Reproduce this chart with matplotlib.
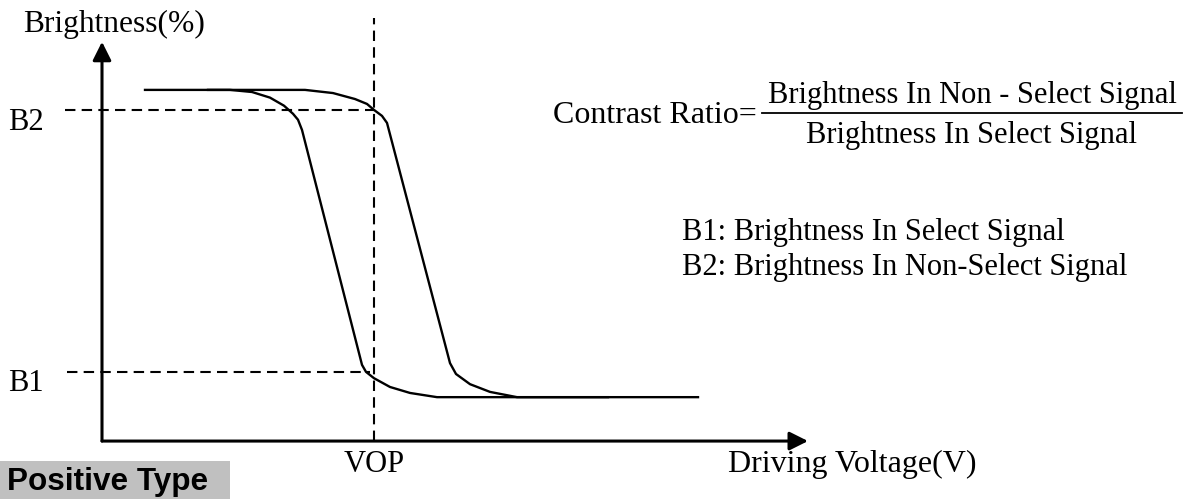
import matplotlib
matplotlib.use("Agg")
import matplotlib.pyplot as plt
from matplotlib.patches import Rectangle

# Driving voltage (arbitrary units) and brightness (%) of the two curves
v_left = [0.43, 1.28, 1.50, 1.68, 1.82, 1.91, 1.96, 2.00, 2.60, 2.64, 2.72, 2.88, 3.08, 3.35, 5.06]
b_left = [100.0, 100.0, 99.4, 97.8, 95.5, 93.2, 91.5, 88.6, 21.7, 19.7, 17.9, 15.4, 13.7, 12.5, 12.5]
v_right = [1.06, 2.03, 2.31, 2.53, 2.65, 2.72, 2.80, 2.85, 3.48, 3.54, 3.68, 3.88, 4.15, 5.96]
b_right = [100.0, 100.0, 99.1, 97.4, 96.0, 94.3, 92.6, 90.6, 22.2, 19.1, 16.2, 14.0, 12.5, 12.5]

VOP = 2.72
B2 = 94.3
B1 = 19.7

serif = "Liberation Serif"
fs = 22

fig = plt.figure(figsize=(11.9, 4.99), dpi=100)
ax = fig.add_axes([0, 0, 1, 1])
ax.set_xlim(-1.02, 10.88)
ax.set_ylim(-16.5, 125.6)
ax.axis("off")

# axes with arrows
ax.annotate("", xy=(0, 113.7), xytext=(0, 0),
            arrowprops=dict(arrowstyle="-|>", lw=2.2, color="black", mutation_scale=28,
                            shrinkA=0, shrinkB=0))
ax.annotate("", xy=(7.06, 0), xytext=(0, 0),
            arrowprops=dict(arrowstyle="-|>", lw=2.2, color="black", mutation_scale=28,
                            shrinkA=0, shrinkB=0))

# dashed guides
ax.plot([VOP, VOP], [0, 120.5], color="black", lw=1.5, ls=(0, (5, 3)))
ax.plot([-0.37, VOP], [B2, B2], color="black", lw=1.5, ls=(0, (5, 3)))
ax.plot([-0.35, 2.68], [B1, B1], color="black", lw=1.5, ls=(0, (5, 3)))

# curves
ax.plot(v_left, b_left, color="black", lw=1.7, solid_joinstyle="round")
ax.plot(v_right, b_right, color="black", lw=1.7, solid_joinstyle="round")

# labels
ax.text(-0.79, 116.5, "Brightness(%)", fontsize=22.7, family=serif, va="baseline")
ax.text(-0.94, 88.6, "B2", fontsize=fs, family=serif, va="baseline")
ax.text(-0.94, 14.2, "B1", fontsize=fs, family=serif, va="baseline")
ax.text(VOP, -8.8, "VOP", fontsize=fs, family=serif, va="baseline", ha="center")
ax.text(6.26, -8.8, "Driving Voltage(V)", fontsize=23, family=serif, va="baseline")

# contrast ratio formula
ax.text(6.55, 90.6, "Contrast Ratio=", fontsize=23, family=serif, va="baseline", ha="right")
ax.plot([6.60, 10.80], [93.4, 93.4], color="black", lw=1.3)
ax.text(8.70, 96.3, "Brightness In Non - Select Signal", fontsize=fs, family=serif,
        va="baseline", ha="center")
ax.text(8.70, 84.9, "Brightness In Select Signal", fontsize=fs, family=serif,
        va="baseline", ha="center")

ax.text(5.80, 57.3, "B1: Brightness In Select Signal", fontsize=fs, family=serif, va="baseline")
ax.text(5.80, 47.3, "B2: Brightness In Non-Select Signal", fontsize=fs, family=serif, va="baseline")

# title box
ax.add_patch(Rectangle((-1.02, -16.5), 2.30, 10.8, color="#c0c0c0", lw=0))
ax.text(-0.95, -14.0, "Positive Type", fontsize=22.7, family="Liberation Sans",
        weight="bold", va="baseline")

fig.savefig("out.png", dpi=100)
